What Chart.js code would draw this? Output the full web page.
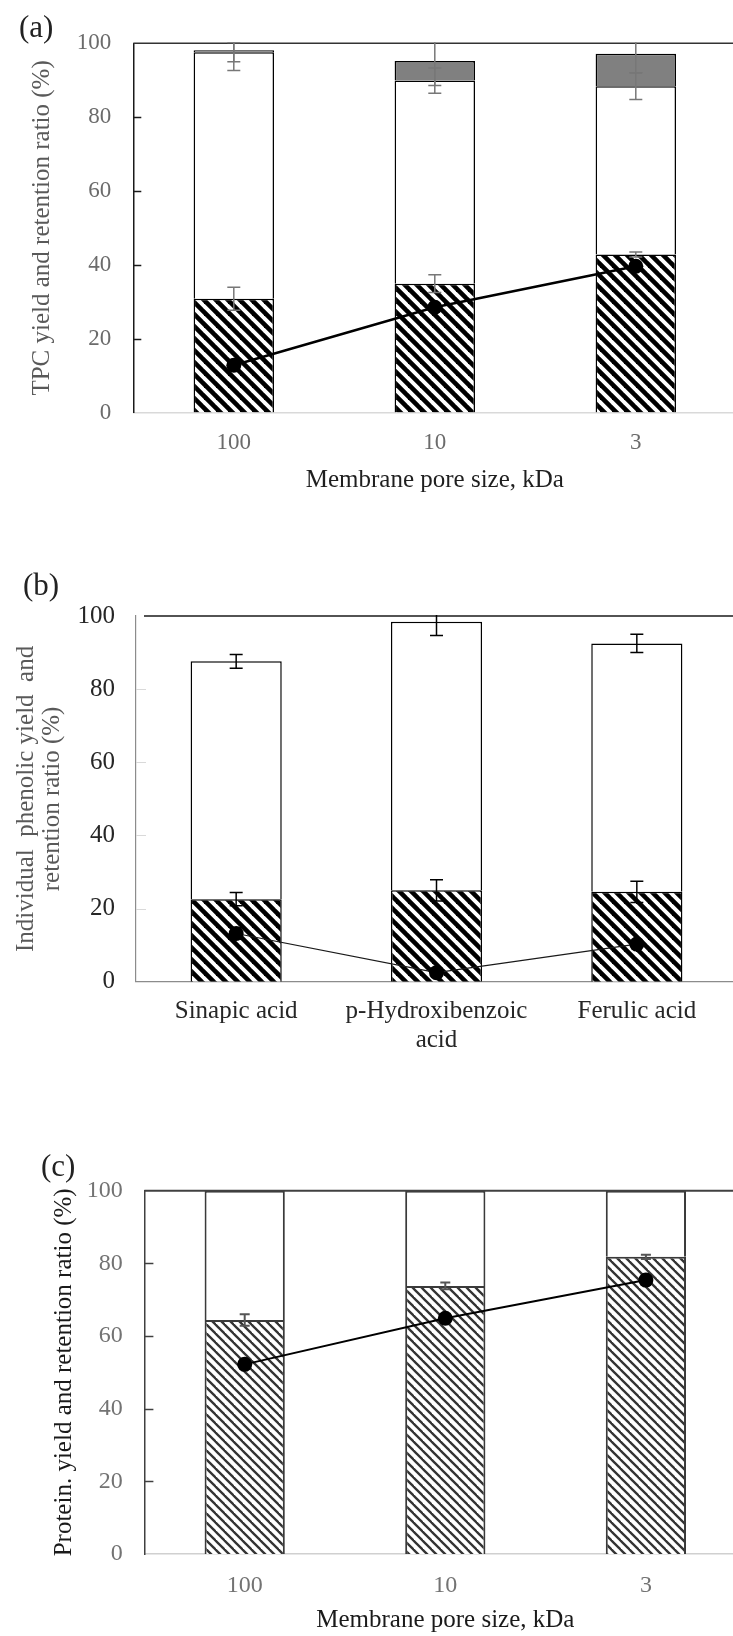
<!DOCTYPE html>
<html>
<head>
<meta charset="utf-8">
<script src="https://cdn.jsdelivr.net/npm/chart.js@4.4.1/dist/chart.umd.min.js"></script>
<style>
  html, body { margin: 0; padding: 0; background: #fff; }
  #page { position: relative; width: 733px; height: 1636px; overflow: hidden; background: #fff; }
  #page canvas { position: absolute; left: 0; }
</style>
</head>
<body>
<div id="page">
  <canvas id="chartA" width="760" height="500" style="top:0px"></canvas>
  <canvas id="chartB" width="760" height="520" style="top:540px"></canvas>
  <canvas id="chartC" width="760" height="536" style="top:1100px"></canvas>
</div>
<script>
// ---------- data ----------
const poreSizes = ['100', '10', '3'];
const yTicks = [0, 20, 40, 60, 80, 100];

// (a) total phenolic content
const tpcPermeate = [30.8, 34.9, 42.8];
const tpcPermeateErr = [3.1, 2.4, 0.7];
const tpcRetentate = [66.8, 55.0, 45.6];
const tpcRetentateErr = [2.6, 3.4, 3.6];
const tpcLoss = [0.5, 5.3, 8.8];
const tpcLossErr = [5.5, 6.6, 5.2];
const tpcRetention = [12.8, 28.5, 39.6];

// (b) individual phenolic acids
const phenolics = ['Sinapic acid', ['p-Hydroxibenzoic', 'acid'], 'Ferulic acid'];
const phenPermeate = [22.6, 25.0, 24.6];
const phenPermeateErr = [1.8, 2.9, 2.9];
const phenRetentate = [65.0, 73.4, 67.9];
const phenRetentateErr = [1.9, 3.7, 2.5];
const phenRetention = [13.2, 2.5, 10.3];

// (c) protein
const protPermeate = [64.4, 73.8, 81.8];
const protPermeateErr = [1.6, 0.9, 0.6];
const protRetentate = [35.6, 26.2, 18.2];
const protRetention = [52.2, 64.9, 75.4];

// ---------- helpers ----------
const SERIF = "'Liberation Serif', 'Times New Roman', serif";

function hatch(canvasId, period, thick, color) {
  const tile = document.createElement('canvas');
  tile.width = tile.height = period;
  const g = tile.getContext('2d');
  g.fillStyle = '#fff';
  g.fillRect(0, 0, period, period);
  g.strokeStyle = color;
  g.lineWidth = thick;
  for (const k of [-1, 0, 1]) {
    g.beginPath();
    g.moveTo(-2, -2 + k * period);
    g.lineTo(period + 2, period + 2 + k * period);
    g.stroke();
  }
  return document.getElementById(canvasId).getContext('2d').createPattern(tile, 'repeat');
}

// frame line along 100 %, inward tick marks, error bars and panel letter
const decor = {
  id: 'decor',
  afterDatasetsDraw(chart, args, o) {
    const { ctx, chartArea: ca, scales: { y } } = chart;
    ctx.save();
    // inward ticks
    ctx.strokeStyle = o.tickColor;
    ctx.lineWidth = o.tickWidth;
    yTicks.forEach(v => {
      if (v === 0 || v === 100) return;
      const py = Math.round(y.getPixelForValue(v)) + 0.5;
      ctx.beginPath();
      ctx.moveTo(ca.left, py);
      ctx.lineTo(ca.left + o.tickLen, py);
      ctx.stroke();
    });
    // top frame
    const ty = y.getPixelForValue(100);
    ctx.strokeStyle = o.frameColor;
    ctx.lineWidth = o.frameWidth;
    ctx.beginPath();
    ctx.moveTo(ca.left + o.frameInset, ty);
    ctx.lineTo(chart.width, ty);
    ctx.stroke();
    // error bars
    ctx.beginPath();
    ctx.rect(ca.left, ca.top - 1, ca.right - ca.left, ca.bottom - ca.top + 2);
    ctx.clip();
    ctx.strokeStyle = o.errColor;
    ctx.lineWidth = o.errWidth;
    (o.errors || []).forEach(({ dataset, err }) => {
      chart.getDatasetMeta(dataset).data.forEach((bar, i) => {
        const v = y.getValueForPixel(bar.y);
        const hi = y.getPixelForValue(v + err[i]);
        const lo = y.getPixelForValue(v - err[i]);
        const cx = bar.x;
        ctx.beginPath();
        ctx.moveTo(cx, hi); ctx.lineTo(cx, lo);
        ctx.moveTo(cx - o.capHalf, hi); ctx.lineTo(cx + o.capHalf, hi);
        ctx.moveTo(cx - o.capHalf, lo); ctx.lineTo(cx + o.capHalf, lo);
        ctx.stroke();
      });
    });
    ctx.restore();
  },
  afterDraw(chart, args, o) {
    const ctx = chart.ctx;
    ctx.save();
    ctx.fillStyle = o.tagColor;
    ctx.font = o.tagSize + 'px ' + SERIF;
    ctx.textBaseline = 'middle';
    ctx.textAlign = 'left';
    ctx.fillText(o.tag, o.tagX, o.tagY);
    ctx.restore();
  }
};

function yTickList(s) { s.ticks = yTicks.map(v => ({ value: v })); }

function makeChart(id, cfg) {
  return new Chart(document.getElementById(id), {
    type: 'bar',
    data: { labels: cfg.labels, datasets: cfg.datasets },
    options: {
      responsive: false,
      animation: false,
      devicePixelRatio: 1,
      layout: { padding: { left: 0, top: cfg.padTop, right: 760 - cfg.areaRight, bottom: 0 } },
      plugins: { legend: { display: false }, tooltip: { enabled: false }, decor: cfg.decor },
      scales: {
        x: {
          stacked: true,
          afterFit: s => { s.height = cfg.xHeight; },
          grid: { display: false, drawTicks: false },
          border: { display: true, color: cfg.xAxisColor, width: cfg.xAxisWidth },
          ticks: { padding: cfg.xTickPad, color: cfg.xTickColor, maxRotation: 0, autoSkip: false,
                   font: { family: SERIF, size: cfg.xTickSize, lineHeight: cfg.xTickLH || 1.2 } },
          title: cfg.xTitle
        },
        y: {
          stacked: true, min: 0, max: 100,
          afterBuildTicks: yTickList,
          afterFit: s => { s.width = cfg.areaLeft; },
          grid: { display: false, drawTicks: false },
          border: { display: true, color: cfg.yAxisColor, width: cfg.yAxisWidth },
          ticks: { padding: cfg.yTickPad, color: cfg.yTickColor, font: { family: SERIF, size: cfg.yTickSize } },
          title: cfg.yTitle
        }
      }
    },
    plugins: [decor]
  });
}

// ---------- (a) ----------
makeChart('chartA', {
  labels: poreSizes,
  padTop: 43.3, areaLeft: 133.3, areaRight: 736.3, xHeight: 87.5,
  xAxisColor: '#d9d9d9', xAxisWidth: 1.5, yAxisColor: '#1a1a1a', yAxisWidth: 1.5,
  xTickPad: 17, xTickColor: '#6b6b6b', xTickSize: 23,
  yTickPad: 22, yTickColor: '#6b6b6b', yTickSize: 23,
  xTitle: { display: true, text: 'Membrane pore size, kDa', color: '#1f1f1f',
            font: { family: SERIF, size: 25 }, padding: { top: 0, bottom: 5 } },
  yTitle: { display: true, text: 'TPC yield and retention ratio (%)', color: '#595959',
            font: { family: SERIF, size: 25 }, padding: { top: 27, bottom: 0 } },
  datasets: [
    { type: 'line', label: 'Retention ratio', data: tpcRetention, order: 0,
      borderColor: '#000', borderWidth: 2.5, pointRadius: 7.5, pointBackgroundColor: '#000',
      pointBorderWidth: 0, fill: false },
    { label: 'Permeate', data: tpcPermeate, order: 1, backgroundColor: hatch('chartA', 12, 4.6, '#000'),
      borderColor: '#000', borderWidth: 1.5, borderSkipped: 'start', barPercentage: 0.4, categoryPercentage: 1 },
    { label: 'Retentate', data: tpcRetentate, order: 1, backgroundColor: '#fff',
      borderColor: '#000', borderWidth: 1.5, borderSkipped: 'start', barPercentage: 0.4, categoryPercentage: 1 },
    { label: 'Loss', data: tpcLoss, order: 1, backgroundColor: '#808080',
      borderColor: '#000', borderWidth: 1.5, borderSkipped: 'start', barPercentage: 0.4, categoryPercentage: 1 }
  ],
  decor: {
    tickColor: '#1a1a1a', tickWidth: 1.5, tickLen: 8,
    frameColor: '#333', frameWidth: 1.5, frameInset: 0,
    errColor: '#777', errWidth: 1.5, capHalf: 6.5,
    errors: [ { dataset: 1, err: tpcPermeateErr }, { dataset: 2, err: tpcRetentateErr }, { dataset: 3, err: tpcLossErr } ],
    tag: '(a)', tagX: 19, tagY: 29, tagSize: 31, tagColor: '#222'
  }
});

// ---------- (b) ----------
makeChart('chartB', {
  labels: phenolics,
  padTop: 76, areaLeft: 136, areaRight: 737, xHeight: 78.2,
  xAxisColor: '#8c8c8c', xAxisWidth: 1.2, yAxisColor: '#8c8c8c', yAxisWidth: 1.2,
  xTickPad: 15.8, xTickColor: '#262626', xTickSize: 25, xTickLH: 1.13,
  yTickPad: 21, yTickColor: '#262626', yTickSize: 25,
  xTitle: { display: false },
  yTitle: { display: true, text: ['Individual  phenolic yield  and', 'retention ratio (%)'], color: '#595959',
            font: { family: SERIF, size: 25, lineHeight: 1.04 }, padding: { top: 13, bottom: 0 } },
  datasets: [
    { type: 'line', label: 'Retention ratio', data: phenRetention, order: 0,
      borderColor: '#1a1a1a', borderWidth: 1.2, pointRadius: 7.5, pointBackgroundColor: '#000',
      pointBorderWidth: 0, fill: false },
    { label: 'Permeate', data: phenPermeate, order: 1, backgroundColor: hatch('chartB', 12, 4.6, '#000'),
      borderColor: '#000', borderWidth: 1.5, borderSkipped: 'start', barPercentage: 0.455, categoryPercentage: 1 },
    { label: 'Retentate', data: phenRetentate, order: 1, backgroundColor: '#fff',
      borderColor: '#000', borderWidth: 1.5, borderSkipped: 'start', barPercentage: 0.455, categoryPercentage: 1 }
  ],
  decor: {
    tickColor: '#d9d9d9', tickWidth: 1, tickLen: 10,
    frameColor: '#1a1a1a', frameWidth: 1.5, frameInset: 8,
    errColor: '#000', errWidth: 1.5, capHalf: 6.5,
    errors: [ { dataset: 1, err: phenPermeateErr }, { dataset: 2, err: phenRetentateErr } ],
    tag: '(b)', tagX: 23, tagY: 47, tagSize: 31, tagColor: '#222'
  }
});

// ---------- (c) ----------
makeChart('chartC', {
  labels: poreSizes,
  padTop: 90.7, areaLeft: 144.4, areaRight: 746.2, xHeight: 82,
  xAxisColor: '#d0d0d0', xAxisWidth: 1.5, yAxisColor: '#404040', yAxisWidth: 1.5,
  xTickPad: 17.3, xTickColor: '#737373', xTickSize: 24,
  yTickPad: 21.7, yTickColor: '#737373', yTickSize: 24,
  xTitle: { display: true, text: 'Membrane pore size, kDa', color: '#1a1a1a',
            font: { family: SERIF, size: 25 }, padding: { top: 0, bottom: 1 } },
  yTitle: { display: true, text: 'Protein. yield and retention ratio (%)', color: '#1a1a1a',
            font: { family: SERIF, size: 25 }, padding: { top: 49, bottom: 0 } },
  datasets: [
    { type: 'line', label: 'Retention ratio', data: protRetention, order: 0,
      borderColor: '#000', borderWidth: 2, pointRadius: 7.5, pointBackgroundColor: '#000',
      pointBorderWidth: 0, fill: false },
    { label: 'Permeate', data: protPermeate, order: 1, backgroundColor: hatch('chartC', 9, 2.3, '#333'),
      borderColor: '#3a3a3a', borderWidth: 2, borderSkipped: 'start', barPercentage: 0.4, categoryPercentage: 1 },
    { label: 'Retentate', data: protRetentate, order: 1, backgroundColor: '#fff',
      borderColor: '#3a3a3a', borderWidth: 2, borderSkipped: 'start', barPercentage: 0.4, categoryPercentage: 1 }
  ],
  decor: {
    tickColor: '#404040', tickWidth: 1.5, tickLen: 9,
    frameColor: '#404040', frameWidth: 2, frameInset: 0,
    errColor: '#555', errWidth: 2, capHalf: 5,
    errors: [ { dataset: 1, err: protPermeateErr } ],
    tag: '(c)', tagX: 41, tagY: 68, tagSize: 31, tagColor: '#222'
  }
});
</script>
</body>
</html>
